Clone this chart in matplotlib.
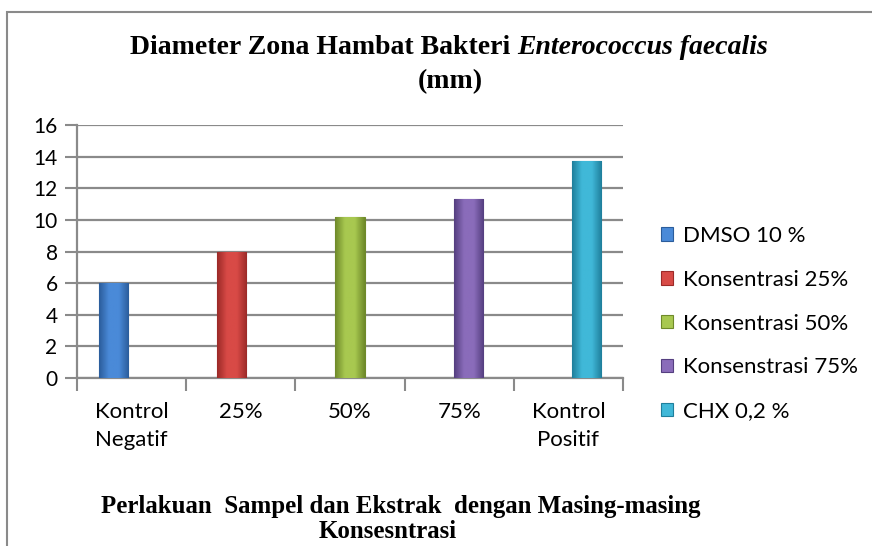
import matplotlib.pyplot as plt
import numpy as np
from matplotlib.patches import Rectangle
from matplotlib.colors import LinearSegmentedColormap

# data
categories = ['Kontrol\nNegatif', '25%', '50%', '75%', 'Kontrol\nPositif']
series = ['DMSO 10 %', 'Konsentrasi 25%', 'Konsentrasi 50%',
          'Konsenstrasi 75%', 'CHX 0,2 %']
values = [6.0, 8.0, 10.2, 11.3, 13.7]

# (dark edge, light middle) per series, Excel-ish bevel look
colors = [('#2b5d9c', '#4a8ad8'), ('#9c2a28', '#d84a46'),
          ('#6f8a2a', '#a8c850'), ('#553f80', '#8a6cba'),
          ('#1f7f9c', '#40b8d8')]

label_font = ['Lato', 'DejaVu Sans']
title_font = ['Liberation Serif', 'DejaVu Serif']

fig = plt.figure(figsize=(8.72, 5.46), dpi=100)
fig.patches.append(Rectangle((7 / 872, -0.1), 1.1, 1 - 12 / 546 + 0.1,
                             transform=fig.transFigure, fill=False,
                             edgecolor='#8a8a8a', linewidth=1.5))

ax = fig.add_axes([77 / 872, 1 - 378 / 546, (623 - 77) / 872, (378 - 125) / 546])

x = np.arange(len(categories)) + 0.5
width = 0.266
step = 0.084
for i, (name, val) in enumerate(zip(series, values)):
    dark, light = colors[i]
    pos = x[i] + (i - 2) * step
    bars = ax.bar(pos, val, width=width, color=light, edgecolor=dark,
                  linewidth=0.8, label=name, zorder=3)
    b = bars[0]
    cmap = LinearSegmentedColormap.from_list('g', [dark, light, light, dark])
    grad = np.linspace(0, 1, 64).reshape(1, -1)
    im = ax.imshow(grad, cmap=cmap, aspect='auto', zorder=3.5,
                   extent=(b.get_x(), b.get_x() + b.get_width(), 0, b.get_height()))
    im.set_clip_path(b)

ax.set_xlim(0, 5)
ax.set_ylim(0, 16)
ax.set_yticks(range(0, 17, 2))
ax.set_xticks(range(0, 6))
ax.set_xticklabels([])
ax.set_xticks(x, minor=True)
ax.set_xticklabels(categories, minor=True, fontfamily=label_font, fontsize=16,
                   linespacing=1.5)
ax.tick_params(axis='x', which='minor', length=0, pad=17)
ax.tick_params(axis='x', which='major', length=9, width=1.5, color='#8a8a8a')
ax.tick_params(axis='y', length=9, width=1.5, color='#8a8a8a', pad=5,
               labelsize=15)
for t in ax.get_yticklabels():
    t.set_fontfamily(label_font)

ax.grid(axis='y', color='#8a8a8a', linewidth=1.6, zorder=0)
ax.set_axisbelow(True)
for s in ['top', 'right']:
    ax.spines[s].set_visible(False)
for s in ['left', 'bottom']:
    ax.spines[s].set_color('#8a8a8a')
    ax.spines[s].set_linewidth(1.6)

ax.legend(loc='center left', bbox_to_anchor=(1.07, 0.215), frameon=False,
          prop={'family': label_font, 'size': 16}, handlelength=0.55,
          handleheight=0.55, handletextpad=0.45, labelspacing=1.07,
          borderpad=0, borderaxespad=0)

fig.text(517 / 872, 1 - 47 / 546,
         'Diameter Zona Hambat Bakteri ', ha='right', va='center',
         fontfamily=title_font, fontweight='bold', fontsize=20)
fig.text(517 / 872, 1 - 47 / 546,
         'Enterococcus faecalis', ha='left', va='center',
         fontfamily=title_font, fontweight='bold', fontstyle='italic', fontsize=20)
fig.text(450 / 872, 1 - 82 / 546, '(mm)', ha='center', va='center',
         fontfamily=title_font, fontweight='bold', fontsize=20)

fig.text(401 / 872, 1 - 506 / 546,
         'Perlakuan  Sampel dan Ekstrak  dengan Masing-masing',
         ha='center', va='center', fontfamily=title_font, fontweight='bold',
         fontsize=17.9)
fig.text(388 / 872, 1 - 531 / 546, 'Konsesntrasi', ha='center', va='center',
         fontfamily=title_font, fontweight='bold', fontsize=17.9)

fig.savefig('out.png', dpi=100)
